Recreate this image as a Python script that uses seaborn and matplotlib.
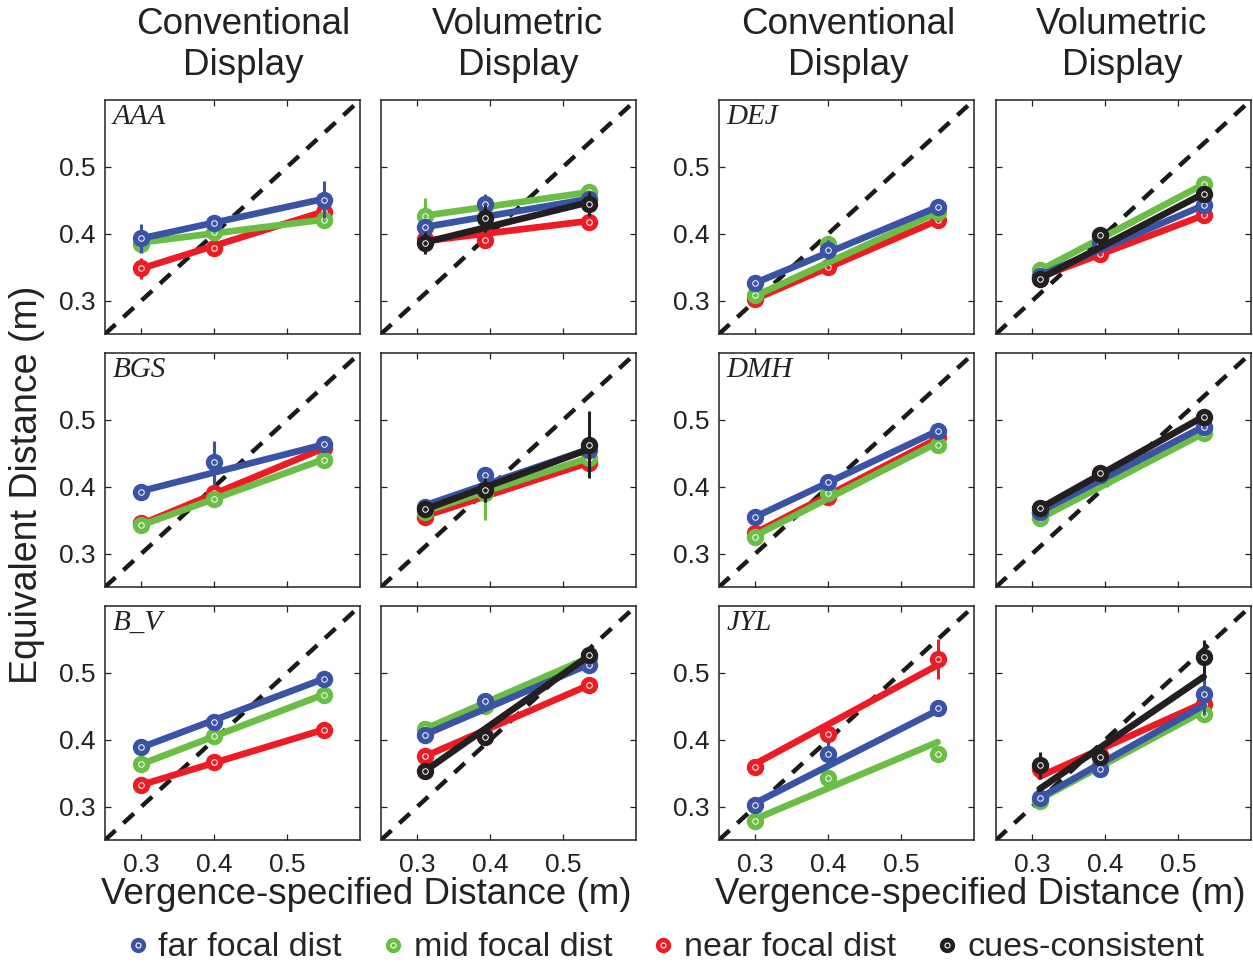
import numpy as np
import pandas as pd
import matplotlib
matplotlib.use("Agg")
import matplotlib.pyplot as plt
import seaborn as sns
from matplotlib.lines import Line2D
from matplotlib.legend_handler import HandlerTuple

sns.set_theme(style="white")
plt.rcParams["font.family"] = ["Liberation Sans", "DejaVu Sans"]

# Vergence-specified distances (m) at which each display was tested
X_CONV = [0.30, 0.40, 0.55]
X_VOL = [0.31, 0.393, 0.535]

# Conditions, in drawing order
CONDITIONS = ["near", "mid", "far", "cons"]
LEGEND_ORDER = ["far", "mid", "near", "cons"]
LABELS = {"far": "far focal dist", "mid": "mid focal dist",
          "near": "near focal dist", "cons": "cues-consistent"}
COLORS = {"far": "#3a53a4", "mid": "#6abd45", "near": "#ed1c24", "cons": "#231f20"}

# ---- Equivalent distance (m): means, error half-lengths, fitted-line ends ----
AAA_CONV_Y = {"far": [0.393, 0.416, 0.451], "mid": [0.385, 0.402, 0.421], "near": [0.348, 0.378, 0.433]}
AAA_CONV_ERR = {"far": [0.022, 0.012, 0.028], "mid": [0.012, 0.008, 0.012], "near": [0.016, 0.012, 0.010]}
AAA_CONV_FIT = {"far": [0.393, 0.452], "mid": [0.387, 0.421], "near": [0.348, 0.433]}
AAA_VOL_Y = {"far": [0.410, 0.445, 0.452], "mid": [0.427, 0.441, 0.462], "near": [0.392, 0.390, 0.418], "cons": [0.386, 0.423, 0.445]}
AAA_VOL_ERR = {"far": [0.008, 0.014, 0.012], "mid": [0.027, 0.010, 0.012], "near": [0.010, 0.008, 0.010], "cons": [0.016, 0.020, 0.018]}
AAA_VOL_FIT = {"far": [0.410, 0.452], "mid": [0.427, 0.462], "near": [0.389, 0.419], "cons": [0.387, 0.447]}

BGS_CONV_Y = {"far": [0.3925, 0.4365, 0.464], "mid": [0.3425, 0.3815, 0.440], "near": [0.345, 0.390, 0.4575]}
BGS_CONV_ERR = {"far": [0.010, 0.032, 0.008], "mid": [0.008, 0.008, 0.010], "near": [0.006, 0.006, 0.008]}
BGS_CONV_FIT = {"far": [0.3935, 0.463], "mid": [0.3425, 0.441], "near": [0.344, 0.4575]}
BGS_VOL_Y = {"far": [0.370, 0.4175, 0.455], "mid": [0.3625, 0.390, 0.4425], "near": [0.355, 0.392, 0.435], "cons": [0.366, 0.395, 0.4625]}
BGS_VOL_ERR = {"far": [0.008, 0.012, 0.010], "mid": [0.008, 0.040, 0.008], "near": [0.006, 0.008, 0.010], "cons": [0.012, 0.018, 0.050]}
BGS_VOL_FIT = {"far": [0.372, 0.456], "mid": [0.363, 0.443], "near": [0.356, 0.436], "cons": [0.366, 0.456]}

BV_CONV_Y = {"far": [0.3885, 0.426, 0.491], "mid": [0.3635, 0.405, 0.4675], "near": [0.3325, 0.3665, 0.415]}
BV_CONV_ERR = {"far": [0.006, 0.006, 0.006], "mid": [0.006, 0.006, 0.006], "near": [0.006, 0.006, 0.006]}
BV_CONV_FIT = {"far": [0.3885, 0.491], "mid": [0.3635, 0.4675], "near": [0.3325, 0.415]}
BV_VOL_Y = {"far": [0.4075, 0.4585, 0.5125], "mid": [0.416, 0.450, 0.5225], "near": [0.375, 0.405, 0.4815], "cons": [0.3525, 0.4035, 0.5265]}
BV_VOL_ERR = {"far": [0.006, 0.006, 0.008], "mid": [0.006, 0.006, 0.006], "near": [0.006, 0.006, 0.006], "cons": [0.006, 0.006, 0.008]}
BV_VOL_FIT = {"far": [0.4075, 0.5125], "mid": [0.416, 0.5225], "near": [0.375, 0.4815], "cons": [0.353, 0.525]}

DEJ_CONV_Y = {"far": [0.3265, 0.376, 0.440], "mid": [0.309, 0.385, 0.4325], "near": [0.3025, 0.350, 0.420]}
DEJ_CONV_ERR = {"far": [0.006, 0.014, 0.006], "mid": [0.006, 0.010, 0.006], "near": [0.006, 0.006, 0.006]}
DEJ_CONV_FIT = {"far": [0.3265, 0.440], "mid": [0.307, 0.432], "near": [0.3025, 0.420]}
DEJ_VOL_Y = {"far": [0.3375, 0.385, 0.4425], "mid": [0.345, 0.395, 0.475], "near": [0.335, 0.370, 0.4275], "cons": [0.3325, 0.3975, 0.460]}
DEJ_VOL_ERR = {"far": [0.006, 0.006, 0.006], "mid": [0.008, 0.006, 0.010], "near": [0.006, 0.006, 0.012], "cons": [0.006, 0.006, 0.008]}
DEJ_VOL_FIT = {"far": [0.3375, 0.4425], "mid": [0.345, 0.474], "near": [0.335, 0.4275], "cons": [0.3325, 0.460]}

DMH_CONV_Y = {"far": [0.355, 0.4075, 0.4835], "mid": [0.325, 0.390, 0.4625], "near": [0.331, 0.385, 0.474]}
DMH_CONV_ERR = {"far": [0.006, 0.006, 0.006], "mid": [0.006, 0.006, 0.006], "near": [0.006, 0.006, 0.006]}
DMH_CONV_FIT = {"far": [0.355, 0.4835], "mid": [0.327, 0.466], "near": [0.331, 0.472]}
DMH_VOL_Y = {"far": [0.3625, 0.4175, 0.490], "mid": [0.3525, 0.4125, 0.480], "near": [0.360, 0.415, 0.4875], "cons": [0.3675, 0.421, 0.505]}
DMH_VOL_ERR = {"far": [0.006, 0.006, 0.006], "mid": [0.006, 0.006, 0.006], "near": [0.006, 0.006, 0.006], "cons": [0.006, 0.006, 0.008]}
DMH_VOL_FIT = {"far": [0.3625, 0.490], "mid": [0.3525, 0.480], "near": [0.360, 0.4875], "cons": [0.3675, 0.505]}

JYL_CONV_Y = {"far": [0.303, 0.379, 0.4475], "mid": [0.279, 0.343, 0.378], "near": [0.359, 0.409, 0.5205]}
JYL_CONV_ERR = {"far": [0.006, 0.018, 0.006], "mid": [0.006, 0.006, 0.012], "near": [0.006, 0.015, 0.030]}
JYL_CONV_FIT = {"far": [0.3055, 0.444], "mid": [0.2815, 0.3965], "near": [0.364, 0.5115]}
JYL_VOL_Y = {"far": [0.313, 0.3565, 0.469], "mid": [0.309, 0.3615, 0.439], "near": [0.3565, 0.3765, 0.454], "cons": [0.3615, 0.374, 0.524]}
JYL_VOL_ERR = {"far": [0.006, 0.006, 0.030], "mid": [0.010, 0.006, 0.010], "near": [0.006, 0.006, 0.008], "cons": [0.020, 0.012, 0.025]}
JYL_VOL_FIT = {"far": [0.313, 0.4515], "mid": [0.311, 0.443], "near": [0.345, 0.455], "cons": [0.3265, 0.494]}

SUBJECTS = ["AAA", "BGS", "B_V", "DEJ", "DMH", "JYL"]
PANELS = {
    "AAA": ((AAA_CONV_Y, AAA_CONV_ERR, AAA_CONV_FIT), (AAA_VOL_Y, AAA_VOL_ERR, AAA_VOL_FIT)),
    "BGS": ((BGS_CONV_Y, BGS_CONV_ERR, BGS_CONV_FIT), (BGS_VOL_Y, BGS_VOL_ERR, BGS_VOL_FIT)),
    "B_V": ((BV_CONV_Y, BV_CONV_ERR, BV_CONV_FIT), (BV_VOL_Y, BV_VOL_ERR, BV_VOL_FIT)),
    "DEJ": ((DEJ_CONV_Y, DEJ_CONV_ERR, DEJ_CONV_FIT), (DEJ_VOL_Y, DEJ_VOL_ERR, DEJ_VOL_FIT)),
    "DMH": ((DMH_CONV_Y, DMH_CONV_ERR, DMH_CONV_FIT), (DMH_VOL_Y, DMH_VOL_ERR, DMH_VOL_FIT)),
    "JYL": ((JYL_CONV_Y, JYL_CONV_ERR, JYL_CONV_FIT), (JYL_VOL_Y, JYL_VOL_ERR, JYL_VOL_FIT)),
}

AX_LIM = (0.25, 0.60)
TICKS = [0.3, 0.4, 0.5]

W, H = 1253, 965
fig = plt.figure(figsize=(W / 100, H / 100), dpi=100)

COL_LEFT = [105, 381, 719, 996]
ROW_TOP = [100, 353, 606]
PW, PH = 255, 234


def add_panel(col, row):
    left = COL_LEFT[col] / W
    bottom = 1 - (ROW_TOP[row] + PH) / H
    return fig.add_axes([left, bottom, PW / W, PH / H])


def draw_panel(ax, xs, ys, errs, fits):
    ax.plot(AX_LIM, AX_LIM, ls=(0, (3.2, 2.4)), color="#1a1a1a", lw=3.2, zorder=1)
    for i, cond in enumerate([c for c in CONDITIONS if c in ys]):
        z = 3 + 2 * i
        col = COLORS[cond]
        fit_df = pd.DataFrame({"x": [xs[0], xs[-1]], "y": fits[cond]})
        sns.lineplot(data=fit_df, x="x", y="y", ax=ax, color=col, lw=4.8,
                     zorder=z, solid_capstyle="round")
        pts = pd.DataFrame({"x": xs, "y": ys[cond], "e": errs[cond]})
        ax.errorbar(pts["x"], pts["y"], yerr=pts["e"], fmt="none", ecolor=col,
                    elinewidth=2.2, capsize=0, zorder=z)
        ax.plot(pts["x"], pts["y"], "o", ms=11.5, mfc=col, mec=col, zorder=z + 1)
        ax.plot(pts["x"], pts["y"], "o", ms=4.0, mfc="none", mec="white",
                mew=0.7, zorder=z + 1)
    ax.set_xlim(AX_LIM)
    ax.set_ylim(AX_LIM)
    ax.set_xticks(TICKS)
    ax.set_yticks(TICKS)
    ax.set_xlabel("")
    ax.set_ylabel("")
    ax.tick_params(direction="in", bottom=True, left=True, top=True, right=True,
                   length=4, width=0.9, labelsize=19, colors="#222222")
    ax.tick_params(axis="x", pad=9)
    ax.tick_params(axis="y", pad=7)
    for sp in ax.spines.values():
        sp.set_color("#222222")
        sp.set_linewidth(1.1)


for k, subj in enumerate(SUBJECTS):
    group = k // 3
    row = k % 3
    (cy, ce, cf), (vy, ve, vf) = PANELS[subj]
    ax_c = add_panel(2 * group, row)
    ax_v = add_panel(2 * group + 1, row)
    draw_panel(ax_c, X_CONV, cy, ce, cf)
    draw_panel(ax_v, X_VOL, vy, ve, vf)
    ax_c.text(0.03, 0.985, subj, transform=ax_c.transAxes, ha="left", va="top",
              fontsize=21, style="italic", family="Liberation Serif", color="#222222",
              zorder=20, bbox=dict(facecolor="white", edgecolor="none", pad=1.5))
    ax_v.tick_params(labelleft=False)
    if row != 2:
        ax_c.tick_params(labelbottom=False)
        ax_v.tick_params(labelbottom=False)

# Column headings
for xc, txt in [(243, "Conventional\nDisplay"), (518, "Volumetric\nDisplay"),
                (848, "Conventional\nDisplay"), (1122, "Volumetric\nDisplay")]:
    fig.text(xc / W, 1 - 45 / H, txt, ha="center", va="center", fontsize=26.5,
             linespacing=1.25, color="#222222")

# Axis titles
for xc in (366, 980):
    fig.text(xc / W, 1 - 894 / H, "Vergence-specified Distance (m)", ha="center",
             va="center", fontsize=26.5, color="#222222")
fig.text(27 / W, 1 - 485 / H, "Equivalent Distance (m)", ha="center", va="center",
         rotation=90, fontsize=27, color="#222222")

# Legend
handles = []
for cond in LEGEND_ORDER:
    dot = Line2D([], [], ls="", marker="o", ms=10, mfc=COLORS[cond], mec=COLORS[cond])
    ring = Line2D([], [], ls="", marker="o", ms=3.6, mfc="none", mec="white", mew=0.8)
    handles.append((dot, ring))
fig.legend(handles, [LABELS[c] for c in LEGEND_ORDER], loc="center",
           bbox_to_anchor=(666 / W, 1 - 948 / H), ncol=4, frameon=False,
           fontsize=24.5, handlelength=0.6, handletextpad=0.3, columnspacing=1.2,
           handler_map={tuple: HandlerTuple(ndivide=1, pad=0)})

fig.savefig("out.png", dpi=100)
